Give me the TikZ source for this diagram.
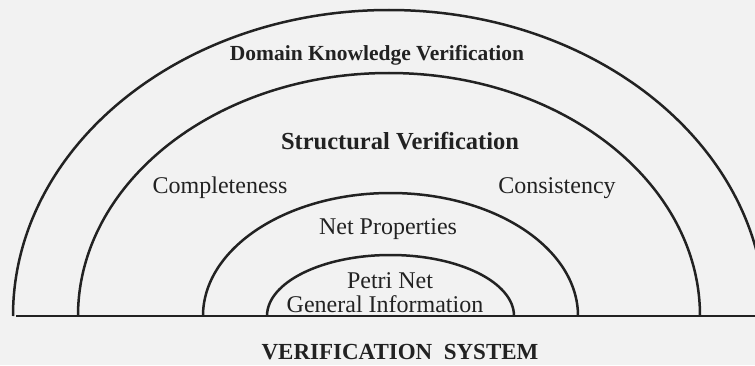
\documentclass[tikz,border=0pt]{standalone}
\usepackage{fontspec}
\setmainfont{Liberation Serif}
\usetikzlibrary{positioning}
\definecolor{paper}{RGB}{242,242,242}
\definecolor{ink}{RGB}{34,34,34}

\begin{document}
\begin{tikzpicture}[x=1pt,y=1pt,line width=2.5pt,
  every node/.style={text=ink,inner sep=0pt},
  heading/.style={font=\fontsize{21.5}{21.5}\selectfont\bfseries},
  txt/.style={font=\fontsize{24}{24}\selectfont}]
\fill[paper] (0,0) rectangle (755,365);
\useasboundingbox (0,0) rectangle (755,365);
\clip (0,0) rectangle (755,365);
% ground line
\coordinate (gl) at (16,49);
\coordinate (gr) at (755,49);
\draw[ink] (gl) -- (gr);
% the four shells
\foreach \x/\a/\b in {13/376/306, 78/311/243, 203/187.5/123, 267/123.5/61}
  \draw[ink] (\x,49) arc[start angle=180,end angle=0,x radius=\a,y radius=\b];
\node[heading] (dkv) at (377,310) {Domain Knowledge Verification};
\node[heading,font=\fontsize{24.5}{24.5}\selectfont\bfseries] (sv) at (400,224) {Structural Verification};
\node[txt] (comp) at (220,177) {Completeness};
\node[txt] (cons) at (557,177) {Consistency};
\node[txt] (np) at (388,136) {Net Properties};
\node[txt,anchor=base] (gi) at (385,53) {General Information};
\node[txt,anchor=base] (pn) at (390,77) {Petri Net};
\node[heading,font=\fontsize{23}{23}\selectfont\bfseries] (vs) at (400,13) {VERIFICATION\ \ SYSTEM};
\end{tikzpicture}
\end{document}
